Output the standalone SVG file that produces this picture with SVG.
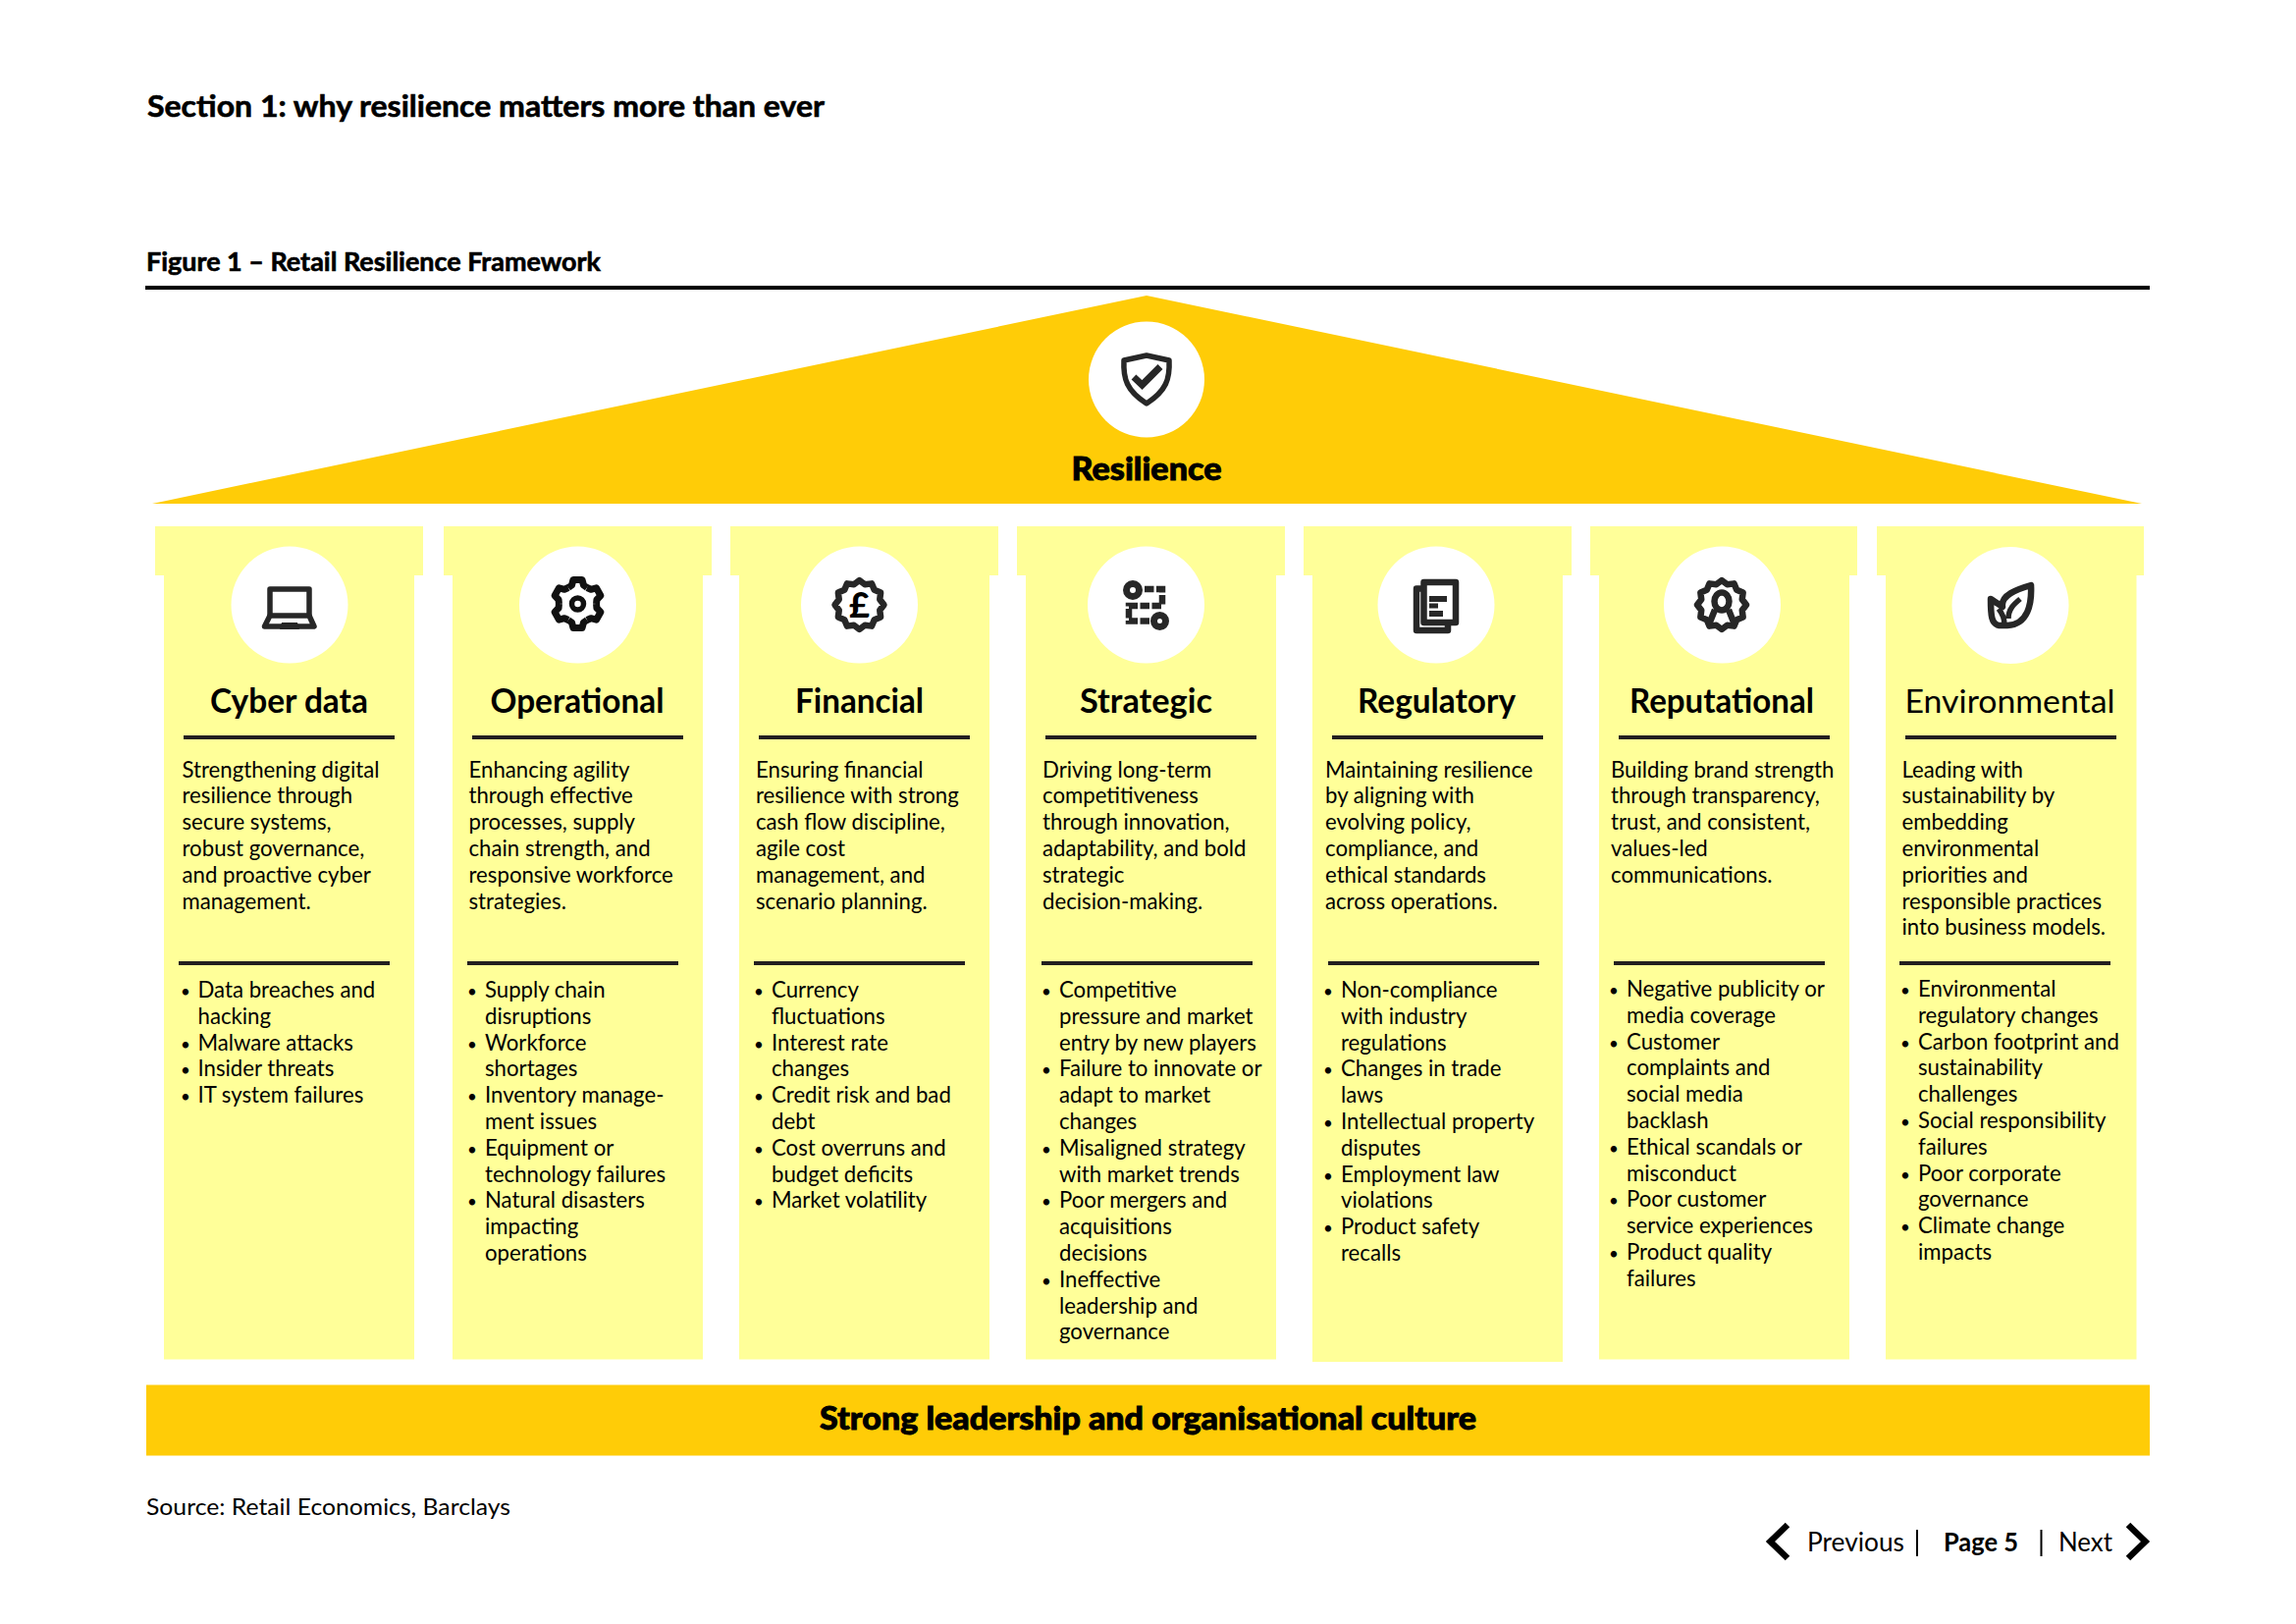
<svg xmlns="http://www.w3.org/2000/svg" width="2339" height="1654" viewBox="0 0 2339 1654">
<style>
text{font-family:"Lato","Liberation Sans",sans-serif;fill:#000}
.b{font-size:22.2px}
.d{font-size:17px}
.t{font-size:33.500px;font-weight:700;text-anchor:middle}
.h{stroke:#000;stroke-width:.6}
.sh{fill:#ffff99}
.y{fill:#ffcc07}
.c{fill:#fff}
.r{fill:#231f20}
.i{stroke:#272727;stroke-width:5.5;fill:none;stroke-linejoin:round}
.k{stroke-width:6.5}
.n{font-size:26px}
</style>
<defs>
<path id="badge" d="M0,-25L5.56,-20.77 12.5,-21.65 15.2,-15.2 21.65,-12.5 20.77,-5.56 25,0 20.77,5.56 21.65,12.5 15.2,15.2 12.5,21.65 5.56,20.77 0,25 -5.56,20.77 -12.5,21.65 -15.2,15.2 -21.65,12.5 -20.77,5.56 -25,0 -20.77,-5.56 -21.65,-12.5 -15.2,-15.2 -12.5,-21.65 -5.56,-20.77Z"/>
<path id="tooth" d="M-9.5,-16.5L-6,-19 -4.5,-24.500 4.5,-24.500 6,-19 9.5,-16.5"/>
</defs>
<rect width="2339" height="1654" fill="#fff"/>
<g id="header">
<text class="h" x="150" y="118.500" font-size="31" font-weight="700" textLength="690" lengthAdjust="spacingAndGlyphs">Section 1: why resilience matters more than ever</text>
<text class="h" x="149" y="276" font-size="26" font-weight="700" textLength="463" lengthAdjust="spacingAndGlyphs">Figure 1 – Retail Resilience Framework</text>
<rect x="148" y="291" width="2042" height="4"/>
</g>
<g id="roof">
<polygon class="y" points="1168,301 2182,513 155,513"/>
<circle class="c" cx="1168" cy="386.500" r="59"/>
<g transform="translate(0,1)">
<path class="i" d="M1168,361L1191,366C1192,385 1188,397 1168,410 1148,397 1144,385 1145,366Z"/>
<path class="i" style="stroke-width:7;stroke-linejoin:miter" d="M1155,383L1163.500,391 1182,372.500"/>
</g>
<text class="h" style="stroke-width:.9" x="1168" y="488.500" font-size="33" font-weight="900" text-anchor="middle" textLength="153" lengthAdjust="spacingAndGlyphs">Resilience</text>
</g>
<g id="col-cyber">
<path class="sh" d="M158,536H431V586H422V1384.500H167V586H158Z"/>
<circle class="c" cx="295" cy="616" r="59.500"/>
<path class="i" d="M275,627V600H315V627"/>
<path class="i" d="M275,627H315L320,638H269.500Z"/>
<path fill="#272727" d="M287,634H303L305,641H285Z"/>
<text class="t" x="294.500" y="725.500" textLength="161" lengthAdjust="spacingAndGlyphs">Cyber data</text>
<rect class="r" x="187" y="749" width="215" height="4"/>
<text class="b" y="791.500"><tspan x="185.500">Strengthening digital</tspan><tspan x="185.500" dy="26.8">resilience through</tspan><tspan x="185.500" dy="26.8">secure systems,</tspan><tspan x="185.500" dy="26.8">robust governance,</tspan><tspan x="185.500" dy="26.8">and proactive cyber</tspan><tspan x="185.500" dy="26.8">management.</tspan></text>
<rect class="r" x="182" y="979" width="215" height="4"/>
<text class="b" y="1016"><tspan class="d" x="184">•</tspan><tspan x="201.500">Data breaches and</tspan><tspan x="201.500" dy="26.8">hacking</tspan><tspan class="d" x="184" dy="26.8">•</tspan><tspan x="201.500">Malware attacks</tspan><tspan class="d" x="184" dy="26.8">•</tspan><tspan x="201.500">Insider threats</tspan><tspan class="d" x="184" dy="26.8">•</tspan><tspan x="201.500">IT system failures</tspan></text>
</g>
<g id="col-operational">
<path class="sh" d="M452,536H725V586H716V1384.500H461V586H452Z"/>
<circle class="c" cx="588.500" cy="616" r="59.500"/>
<g class="i" style="stroke:#111;stroke-width:7" transform="translate(588.500,615)"><use href="#tooth"/><use href="#tooth" transform="rotate(60)"/><use href="#tooth" transform="rotate(120)"/><use href="#tooth" transform="rotate(180)"/><use href="#tooth" transform="rotate(240)"/><use href="#tooth" transform="rotate(300)"/><circle r="6" stroke-width="5.5"/></g>
<text class="t" x="588" y="725.500" textLength="177" lengthAdjust="spacingAndGlyphs">Operational</text>
<rect class="r" x="481" y="749" width="215" height="4"/>
<text class="b" y="791.500"><tspan x="477.500">Enhancing agility</tspan><tspan x="477.500" dy="26.8">through effective</tspan><tspan x="477.500" dy="26.8">processes, supply</tspan><tspan x="477.500" dy="26.8">chain strength, and</tspan><tspan x="477.500" dy="26.8">responsive workforce</tspan><tspan x="477.500" dy="26.8">strategies.</tspan></text>
<rect class="r" x="476" y="979" width="215" height="4"/>
<text class="b" y="1016"><tspan class="d" x="476">•</tspan><tspan x="494">Supply chain</tspan><tspan x="494" dy="26.8">disruptions</tspan><tspan class="d" x="476" dy="26.8">•</tspan><tspan x="494">Workforce</tspan><tspan x="494" dy="26.8">shortages</tspan><tspan class="d" x="476" dy="26.8">•</tspan><tspan x="494">Inventory manage-</tspan><tspan x="494" dy="26.8">ment issues</tspan><tspan class="d" x="476" dy="26.8">•</tspan><tspan x="494">Equipment or</tspan><tspan x="494" dy="26.8">technology failures</tspan><tspan class="d" x="476" dy="26.8">•</tspan><tspan x="494">Natural disasters</tspan><tspan x="494" dy="26.8">impacting</tspan><tspan x="494" dy="26.8">operations</tspan></text>
</g>
<g id="col-financial">
<path class="sh" d="M744,536H1017V586H1008V1384.500H753V586H744Z"/>
<circle class="c" cx="875.500" cy="616" r="59.500"/>
<use class="i k" href="#badge" x="875.500" y="616"/>
<text x="875.500" y="629" font-size="36" font-weight="900" text-anchor="middle">£</text>
<text class="t" x="875.500" y="725.500" textLength="131" lengthAdjust="spacingAndGlyphs">Financial</text>
<rect class="r" x="773" y="749" width="215" height="4"/>
<text class="b" y="791.500"><tspan x="770">Ensuring financial</tspan><tspan x="770" dy="26.8">resilience with strong</tspan><tspan x="770" dy="26.8">cash flow discipline,</tspan><tspan x="770" dy="26.8">agile cost</tspan><tspan x="770" dy="26.8">management, and</tspan><tspan x="770" dy="26.8">scenario planning.</tspan></text>
<rect class="r" x="768" y="979" width="215" height="4"/>
<text class="b" y="1016"><tspan class="d" x="768">•</tspan><tspan x="786">Currency</tspan><tspan x="786" dy="26.8">fluctuations</tspan><tspan class="d" x="768" dy="26.8">•</tspan><tspan x="786">Interest rate</tspan><tspan x="786" dy="26.8">changes</tspan><tspan class="d" x="768" dy="26.8">•</tspan><tspan x="786">Credit risk and bad</tspan><tspan x="786" dy="26.8">debt</tspan><tspan class="d" x="768" dy="26.8">•</tspan><tspan x="786">Cost overruns and</tspan><tspan x="786" dy="26.8">budget deficits</tspan><tspan class="d" x="768" dy="26.8">•</tspan><tspan x="786">Market volatility</tspan></text>
</g>
<g id="col-strategic">
<path class="sh" d="M1036,536H1309V586H1300V1384.500H1045V586H1036Z"/>
<circle class="c" cx="1167.500" cy="616" r="59.500"/>
<circle class="i" style="stroke-width:7" cx="1154" cy="601" r="6.500"/>
<circle class="i" style="stroke-width:7" cx="1181.500" cy="632.500" r="6"/>
<path class="i k" style="stroke-linejoin:miter" stroke-dasharray="9.500 2.500" d="M1166,600H1184V617H1150V632.500H1172"/>
<text class="t" x="1167.500" y="725.500" textLength="135" lengthAdjust="spacingAndGlyphs">Strategic</text>
<rect class="r" x="1065" y="749" width="215" height="4"/>
<text class="b" y="791.500"><tspan x="1062">Driving long-term</tspan><tspan x="1062" dy="26.8">competitiveness</tspan><tspan x="1062" dy="26.8">through innovation,</tspan><tspan x="1062" dy="26.8">adaptability, and bold</tspan><tspan x="1062" dy="26.8">strategic</tspan><tspan x="1062" dy="26.8">decision-making.</tspan></text>
<rect class="r" x="1061" y="979" width="215" height="4"/>
<text class="b" y="1016"><tspan class="d" x="1061">•</tspan><tspan x="1079">Competitive</tspan><tspan x="1079" dy="26.8">pressure and market</tspan><tspan x="1079" dy="26.8">entry by new players</tspan><tspan class="d" x="1061" dy="26.8">•</tspan><tspan x="1079">Failure to innovate or</tspan><tspan x="1079" dy="26.8">adapt to market</tspan><tspan x="1079" dy="26.8">changes</tspan><tspan class="d" x="1061" dy="26.8">•</tspan><tspan x="1079">Misaligned strategy</tspan><tspan x="1079" dy="26.8">with market trends</tspan><tspan class="d" x="1061" dy="26.8">•</tspan><tspan x="1079">Poor mergers and</tspan><tspan x="1079" dy="26.8">acquisitions</tspan><tspan x="1079" dy="26.8">decisions</tspan><tspan class="d" x="1061" dy="26.8">•</tspan><tspan x="1079">Ineffective</tspan><tspan x="1079" dy="26.8">leadership and</tspan><tspan x="1079" dy="26.8">governance</tspan></text>
</g>
<g id="col-regulatory">
<path class="sh" d="M1328,536H1601V586H1592V1387H1337V586H1328Z"/>
<circle class="c" cx="1463" cy="616" r="59.500"/>
<rect class="i k" x="1443" y="599.500" width="32" height="42.500"/>
<rect class="i k" style="fill:#fff" x="1450.500" y="593" width="32.500" height="41"/>
<path fill="#272727" d="M1456,607H1474V613H1456ZM1456,614.500H1465V619.500H1456ZM1456,622H1470V628H1456Z"/>
<text class="t" x="1463.500" y="725.500" textLength="161" lengthAdjust="spacingAndGlyphs">Regulatory</text>
<rect class="r" x="1357" y="749" width="215" height="4"/>
<text class="b" y="791.500"><tspan x="1350">Maintaining resilience</tspan><tspan x="1350" dy="26.8">by aligning with</tspan><tspan x="1350" dy="26.8">evolving policy,</tspan><tspan x="1350" dy="26.8">compliance, and</tspan><tspan x="1350" dy="26.8">ethical standards</tspan><tspan x="1350" dy="26.8">across operations.</tspan></text>
<rect class="r" x="1353" y="979" width="215" height="4"/>
<text class="b" y="1016"><tspan class="d" x="1348">•</tspan><tspan x="1366">Non-compliance</tspan><tspan x="1366" dy="26.8">with industry</tspan><tspan x="1366" dy="26.8">regulations</tspan><tspan class="d" x="1348" dy="26.8">•</tspan><tspan x="1366">Changes in trade</tspan><tspan x="1366" dy="26.8">laws</tspan><tspan class="d" x="1348" dy="26.8">•</tspan><tspan x="1366">Intellectual property</tspan><tspan x="1366" dy="26.8">disputes</tspan><tspan class="d" x="1348" dy="26.8">•</tspan><tspan x="1366">Employment law</tspan><tspan x="1366" dy="26.8">violations</tspan><tspan class="d" x="1348" dy="26.8">•</tspan><tspan x="1366">Product safety</tspan><tspan x="1366" dy="26.8">recalls</tspan></text>
</g>
<g id="col-reputational">
<path class="sh" d="M1620,536H1892V586H1884V1384.500H1629V586H1620Z"/>
<circle class="c" cx="1754.500" cy="616" r="59.500"/>
<use class="i k" href="#badge" x="1754" y="616"/>
<ellipse class="i k" cx="1754" cy="612.500" rx="7.500" ry="9"/>
<path class="i k" d="M1747,621L1741,636M1761,621L1767,636"/>
<text class="t" x="1754" y="725.500" textLength="188" lengthAdjust="spacingAndGlyphs">Reputational</text>
<rect class="r" x="1649" y="749" width="215" height="4"/>
<text class="b" y="791.500"><tspan x="1641">Building brand strength</tspan><tspan x="1641" dy="26.8">through transparency,</tspan><tspan x="1641" dy="26.8">trust, and consistent,</tspan><tspan x="1641" dy="26.8">values-led</tspan><tspan x="1641" dy="26.8">communications.</tspan></text>
<rect class="r" x="1644" y="979" width="215" height="4"/>
<text class="b" y="1015"><tspan class="d" x="1639">•</tspan><tspan x="1657">Negative publicity or</tspan><tspan x="1657" dy="26.8">media coverage</tspan><tspan class="d" x="1639" dy="26.8">•</tspan><tspan x="1657">Customer</tspan><tspan x="1657" dy="26.8">complaints and</tspan><tspan x="1657" dy="26.8">social media</tspan><tspan x="1657" dy="26.8">backlash</tspan><tspan class="d" x="1639" dy="26.8">•</tspan><tspan x="1657">Ethical scandals or</tspan><tspan x="1657" dy="26.8">misconduct</tspan><tspan class="d" x="1639" dy="26.8">•</tspan><tspan x="1657">Poor customer</tspan><tspan x="1657" dy="26.8">service experiences</tspan><tspan class="d" x="1639" dy="26.8">•</tspan><tspan x="1657">Product quality</tspan><tspan x="1657" dy="26.8">failures</tspan></text>
</g>
<g id="col-environmental">
<path class="sh" d="M1912,536H2184V586H2176.500V1384.500H1921V586H1912Z"/>
<circle class="c" cx="2048" cy="616.500" r="59.500"/>
<path class="i k" d="M2069,596C2070,615 2066,636 2045,637L2036,637C2029,635 2028,628 2028,610L2040,618C2038,606 2055,600 2069,596Z"/>
<path class="i" d="M2046,630C2046,620 2052,615 2058,610M2036,620C2040,625 2042,630 2042,636"/>
<text class="t" x="2047.500" y="725.500" style="font-weight:400" textLength="214" lengthAdjust="spacingAndGlyphs">Environmental</text>
<rect class="r" x="1941" y="749" width="215" height="4"/>
<text class="b" y="791.500"><tspan x="1937.500">Leading with</tspan><tspan x="1937.500" dy="26.8">sustainability by</tspan><tspan x="1937.500" dy="26.8">embedding</tspan><tspan x="1937.500" dy="26.8">environmental</tspan><tspan x="1937.500" dy="26.8">priorities and</tspan><tspan x="1937.500" dy="26.8">responsible practices</tspan><tspan x="1937.500" dy="26.8">into business models.</tspan></text>
<rect class="r" x="1935" y="979" width="215" height="4"/>
<text class="b" y="1015"><tspan class="d" x="1936">•</tspan><tspan x="1954">Environmental</tspan><tspan x="1954" dy="26.8">regulatory changes</tspan><tspan class="d" x="1936" dy="26.8">•</tspan><tspan x="1954">Carbon footprint and</tspan><tspan x="1954" dy="26.8">sustainability</tspan><tspan x="1954" dy="26.8">challenges</tspan><tspan class="d" x="1936" dy="26.8">•</tspan><tspan x="1954">Social responsibility</tspan><tspan x="1954" dy="26.8">failures</tspan><tspan class="d" x="1936" dy="26.8">•</tspan><tspan x="1954">Poor corporate</tspan><tspan x="1954" dy="26.8">governance</tspan><tspan class="d" x="1936" dy="26.8">•</tspan><tspan x="1954">Climate change</tspan><tspan x="1954" dy="26.8">impacts</tspan></text>
</g>
<g id="foundation">
<rect class="y" x="149" y="1410.500" width="2041" height="72"/>
<text class="h" style="stroke-width:.9" x="835" y="1456" font-size="33" font-weight="900" textLength="669" lengthAdjust="spacingAndGlyphs">Strong leadership and organisational culture</text>
</g>
<g id="footer">
<text x="149" y="1543" font-size="24" textLength="371" lengthAdjust="spacingAndGlyphs">Source: Retail Economics, Barclays</text>
<path d="M1821,1553L1803.500,1570 1821,1587M2168,1553L2185.500,1570 2168,1587" fill="none" stroke="#000" stroke-width="6.500"/>
<path d="M1953,1558V1585M2079.500,1558V1585" stroke="#000" stroke-width="2"/>
<text class="n" x="1841" y="1580" textLength="99" lengthAdjust="spacingAndGlyphs">Previous</text>
<text class="n" x="1980" y="1580" font-weight="700" textLength="76" lengthAdjust="spacingAndGlyphs">Page 5</text>
<text class="n" x="2097" y="1580" textLength="55" lengthAdjust="spacingAndGlyphs">Next</text>
</g>
<g id="connectors"/>
</svg>
